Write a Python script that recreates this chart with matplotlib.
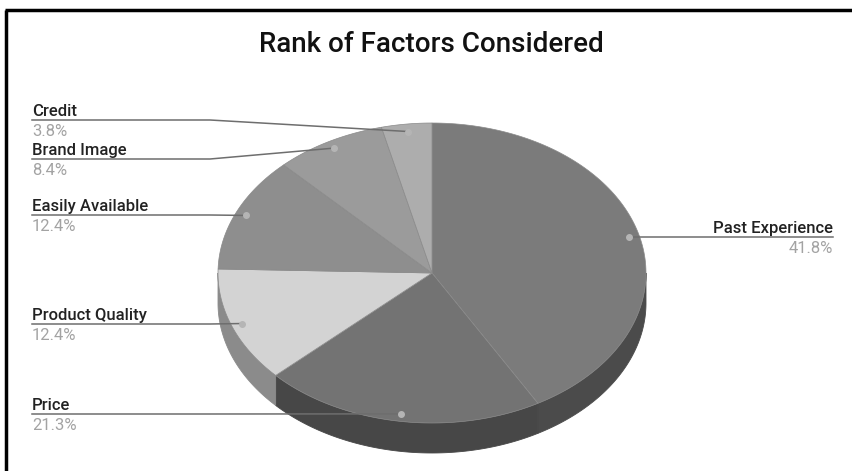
import numpy as np
import matplotlib.pyplot as plt
from matplotlib.patches import Polygon

# slices, clockwise from 12 o'clock
labels = ["Past Experience", "Price", "Product Quality", "Easily Available", "Brand Image", "Credit"]
shares = [41.8, 21.3, 12.4, 12.4, 8.4, 3.8]
top_colors = ["#7b7b7b", "#737373", "#d3d3d3", "#8e8e8e", "#9b9b9b", "#adadad"]
side_colors = ["#4b4b4b", "#474747", "#8b8b8b", "#5e5e5e", "#666666", "#777777"]

plt.rcParams['font.family'] = ['Roboto', 'DejaVu Sans']

W, H = 852, 471
fig = plt.figure(figsize=(W / 100, H / 100), dpi=100)
ax = fig.add_axes([0, 0, 1, 1])
ax.set_xlim(0, W)
ax.set_ylim(H, 0)
ax.axis('off')

# pie geometry in pixels
cx, cy, rx, ry, depth = 432, 273, 214, 150, 30


def rim(t0, t1, r=1.0, n=120):
    t = np.radians(np.linspace(t0, t1, n))
    return cx + r * rx * np.sin(t), cy - r * ry * np.cos(t)


frac = np.array(shares) / sum(shares)
edges = np.concatenate([[0], np.cumsum(frac) * 360])

# side walls (only front half visible)
for i in range(len(shares)):
    a0, a1 = max(edges[i], 90), min(edges[i + 1], 270)
    if a1 <= a0:
        continue
    x, y = rim(a0, a1)
    xs = np.concatenate([x, x[::-1]])
    ys = np.concatenate([y, y[::-1] + depth])
    ax.add_patch(Polygon(np.column_stack([xs, ys]), closed=True,
                         fc=side_colors[i], ec=side_colors[i], lw=0.6))

# top faces
for i in range(len(shares)):
    x, y = rim(edges[i], edges[i + 1])
    xs = np.concatenate([[cx], x])
    ys = np.concatenate([[cy], y])
    ax.add_patch(Polygon(np.column_stack([xs, ys]), closed=True,
                         fc=top_colors[i], ec="#8a8a8a", lw=0.5))

# leader lines and labels
line_y = [237, 414, 324, 215, 159, 120]
for i, lab in enumerate(labels):
    mid = (edges[i] + edges[i + 1]) / 2
    dx, dy = rim(mid, mid, r=0.95, n=1)
    dx, dy = dx[0], dy[0]
    ly = line_y[i]
    pct = f"{shares[i]:.1f}%"
    if dx > cx:
        tx, ha = 833, 'right'
        ax.plot([dx, tx], [ly, ly], color="#6e6e6e", lw=1.1, zorder=3)
    else:
        tx, ha = 32, 'left'
        ax.plot([tx, 210, dx], [ly, ly, dy], color="#6e6e6e", lw=1.1, zorder=3)
    ax.text(tx, ly - 4, lab, ha=ha, va='baseline', fontsize=12,
            fontweight='medium', color="#222222")
    ax.text(tx, ly + 16, pct, ha=ha, va='baseline', fontsize=12, color="#a3a3a3")
    ax.plot(dx, dy, 'o', ms=4, color="#b5b5b5", zorder=4)

ax.text(431, 52, "Rank of Factors Considered", ha='center', va='baseline',
        fontsize=20, fontweight='medium', color="#111111")

# frame edges
ax.plot([5, W], [10, 10], color="black", lw=2.5, solid_capstyle='butt')
ax.plot([6, 6], [10, H], color="black", lw=2.5, solid_capstyle='butt')

fig.savefig("out.png", dpi=100)
